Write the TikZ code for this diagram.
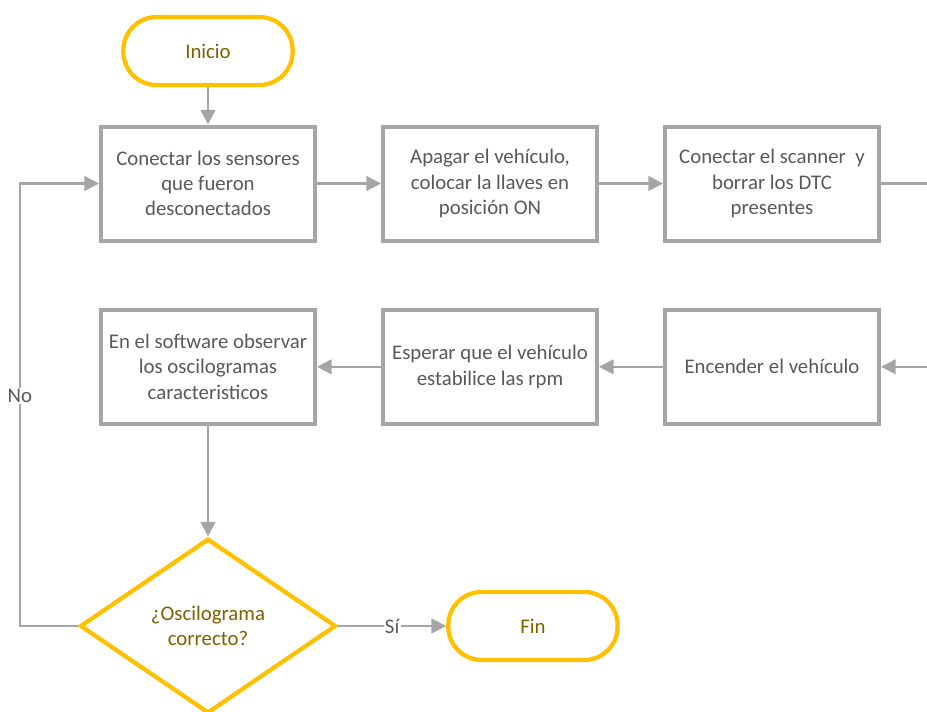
\documentclass[tikz,border=0pt]{standalone}
\usepackage{fontspec}
\setmainfont{Carlito}
\usetikzlibrary{positioning,arrows.meta,shapes.geometric}
\definecolor{gold}{HTML}{FFC000}
\definecolor{goldT}{HTML}{7F6000}
\definecolor{greyL}{HTML}{A5A5A5}
\definecolor{greyT}{HTML}{595959}
\tikzset{
  arr/.style={-{Triangle[length=11pt,width=11pt]}, line width=1.7pt, color=greyL},
  proc/.style={draw=greyL, line width=3pt, fill=white, text=greyT, align=center,
               font=\fontsize{15.6}{19}\selectfont, inner sep=0pt,
               minimum width=160.5pt, minimum height=85.5pt},
  term/.style={draw=gold, line width=3.2pt, fill=white, text=goldT, rounded corners=25pt,
               font=\fontsize{15.6}{19}\selectfont, minimum width=127pt, minimum height=51pt},
  dec/.style={diamond, aspect=1.46, draw=gold, line width=3.2pt, fill=white, text=goldT,
              align=center, inner sep=0pt, font=\fontsize{15.6}{19}\selectfont,
              minimum width=192pt, minimum height=131pt},
  lbl/.style={fill=white, text=greyT, inner sep=1pt, font=\fontsize{15.6}{19}\selectfont},
}
\begin{document}
\begin{tikzpicture}[x=0.75pt, y=-0.75pt]
  \useasboundingbox (0,0) rectangle (927,711);
  \clip (0,0) rectangle (927,711);
  % first row
  \node[proc] (cnx) at (208,183.5) {Conectar los sensores\\que fueron\\desconectados};
  \node[proc, right=48pt of cnx] (apg) {Apagar el vehículo,\\colocar la llaves en\\posición ON};
  \node[proc, right=48pt of apg] (scn) {Conectar el scanner\ \ y\\borrar los DTC\\presentes};
  \node[term, above=28pt of cnx] (ini) {Inicio};
  % second row
  \node[proc, below=49pt of scn] (enc) {Encender el vehículo};
  \node[proc, left=48pt of enc] (esp) {Esperar que el vehículo\\estabilice las rpm};
  \node[proc, left=48pt of esp] (osc) {En el software observar\\los oscilogramas\\caracteristicos};
  % decision
  \node[dec, below=83pt of osc] (ok) {¿Oscilograma\\correcto?};
  \node[term, right=81pt of ok] (fin) {Fin};
  \coordinate[right=40pt of scn] (outR);
  \coordinate[right=40pt of enc] (inR);
  \coordinate[left=43.5pt of ok] (back);

  \foreach \a/\b in {ini/cnx, cnx/apg, apg/scn, enc/esp, esp/osc, osc/ok} \draw[arr] (\a) -- (\b);
  \draw[line width=1.7pt, greyL] (scn) -- (outR);
  \draw[arr] (inR) -- (enc);
  \draw[arr] (ok) -- node[lbl] {Sí} (fin);
  \draw[arr] (ok.west) -- (back) |- node[lbl, pos=0.26] {No} (cnx);
\end{tikzpicture}
\end{document}
